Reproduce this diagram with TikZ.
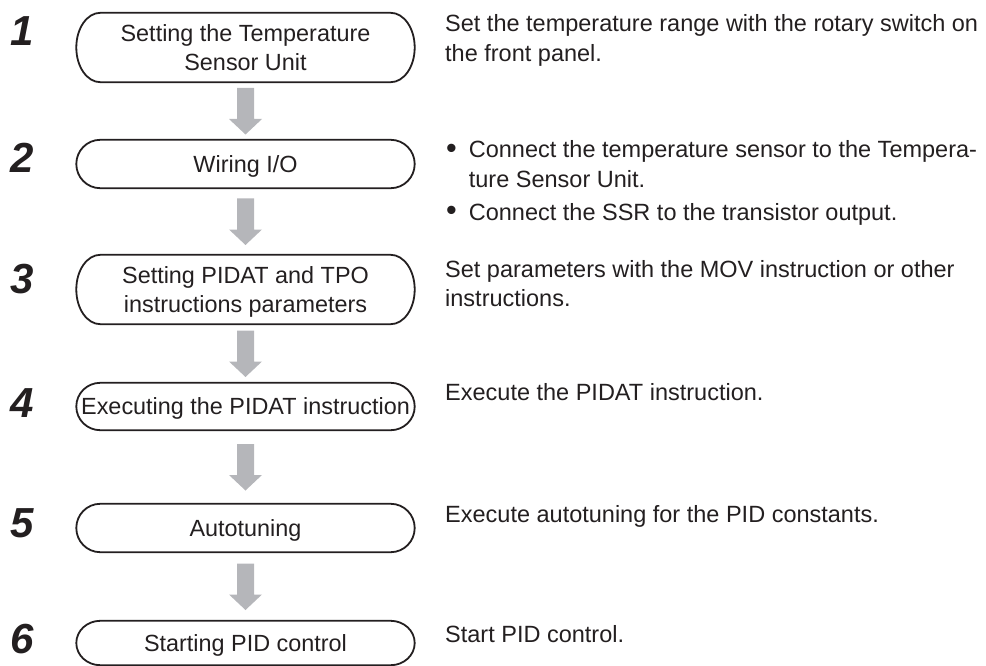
\documentclass[tikz,border=0pt]{standalone}
\usepackage{fontspec}
\setmainfont{Liberation Sans}
\usetikzlibrary{calc}
\definecolor{arrowgray}{RGB}{181,182,186}
\definecolor{ink}{RGB}{35,31,32}
\newcommand{\bigbullet}{\raisebox{-0.3pt}{\scalebox{1.3}{\textbullet}}}
\begin{document}
\begin{tikzpicture}[x=1pt,y=-1pt,
  stepbox/.style={rectangle, inner sep=0pt, minimum width=338pt, align=center,
    font=\fontsize{23.4}{29}\selectfont, text depth=0pt, text=ink},
  boxline/.style={draw=ink, line width=1.8pt},
  num/.style={anchor=base west, inner sep=0pt, text=ink,
    font=\fontsize{42}{42}\selectfont\bfseries\itshape},
  desc/.style={anchor=base west, inner sep=0pt, text=ink,
    font=\fontsize{23.5}{29.5}\selectfont},
  flowarrow/.style={fill=arrowgray}]
\useasboundingbox (0,0) rectangle (986,666);

% step boxes
\node[stepbox, minimum height=69pt] (b1) at (245.5,47.5) {Setting the Temperature\\Sensor Unit};
\node[stepbox, minimum height=48pt] (b2) at (245.5,164) {Wiring I/O};
\node[stepbox, minimum height=69pt] (b3) at (245.5,289.5) {Setting PIDAT and TPO\\instructions parameters};
\node[stepbox, minimum height=47pt] (b4) at (245.5,406.5) {Executing the PIDAT instruction};
\node[stepbox, minimum height=48pt] (b5) at (245.5,528) {Autotuning};
\node[stepbox, minimum height=44pt] (b6) at (245.5,643) {Starting PID control};

\foreach \i in {1,...,6}{
  \draw[boxline] let \p1=(b\i.north), \p2=(b\i.south), \n1={(\y1-\y2)/2} in
    ([xshift=24pt]b\i.north west) -- ([xshift=-24pt]b\i.north east)
    arc[start angle=90, end angle=-90, x radius=24pt, y radius=\n1]
    -- ([xshift=24pt]b\i.south west)
    arc[start angle=270, end angle=90, x radius=24pt, y radius=\n1] -- cycle;
}

% block arrows between boxes
\foreach \i/\j in {1/2,2/3,3/4,4/5,5/6}{
  \coordinate (m\i) at ($(b\i.south)!0.5!(b\j.north)$);
  \fill[flowarrow] ([shift={(-8.5,-23)}]m\i) -- ([shift={(8.5,-23)}]m\i)
    -- ([shift={(8.5,8)}]m\i) -- ([shift={(16.5,8)}]m\i)
    -- ([shift={(0,23.5)}]m\i) -- ([shift={(-16.5,8)}]m\i)
    -- ([shift={(-8.5,8)}]m\i) -- cycle;
}

% step numbers
\node[num] (n1) at (10,46) {1};
\node[num] (n2) at (10,173) {2};
\node[num] (n3) at (10,293) {3};
\node[num] (n4) at (10,417) {4};
\node[num] (n5) at (10,537) {5};
\node[num] (n6) at (10,653) {6};

% descriptions
\node[desc] (d1) at (445,32) {\begin{tabular}[t]{@{}l@{}}Set the temperature range with the rotary switch on\\the front panel.\end{tabular}};
\node[desc] (d2) at (446,158) {\begin{tabular}[t]{@{}l@{\hspace{12pt}}l@{}}\bigbullet & Connect the temperature sensor to the Tempera-\\ & ture Sensor Unit.\\[3.5pt] \bigbullet & Connect the SSR to the transistor output.\end{tabular}};
\node[desc] (d3) at (445,277) {\begin{tabular}[t]{@{}l@{}}Set parameters with the MOV instruction or other\\instructions.\end{tabular}};
\node[desc] (d4) at (445,400) {Execute the PIDAT instruction.};
\node[desc] (d5) at (445,522) {Execute autotuning for the PID constants.};
\node[desc] (d6) at (445,642) {Start PID control.};
\end{tikzpicture}
\end{document}
